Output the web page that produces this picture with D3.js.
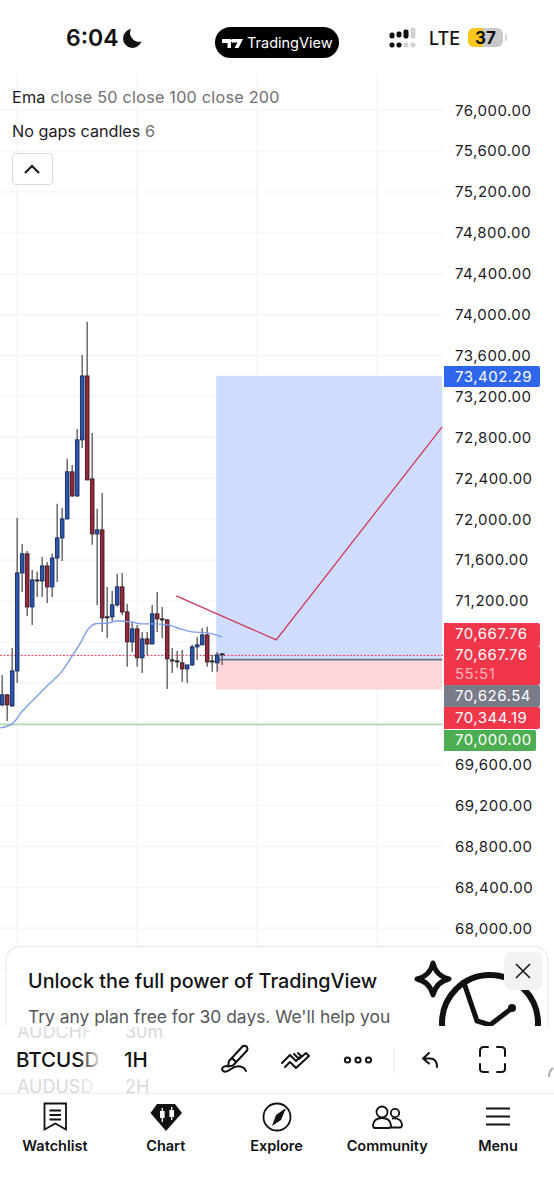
<!DOCTYPE html>
<html><head><meta charset="utf-8">
<script src="https://cdn.jsdelivr.net/npm/d3@7"></script>
<style>
html,body{margin:0;padding:0;background:#fff;overflow:hidden}
svg{display:block}
text{font-family:Inter,"Noto Sans",sans-serif}
</style></head><body><div id="c"></div>
<script>
// ---- data ----
const gridTicks=[76000,75600,75200,74800,74400,74000,73600,73200,72800,72400,72000,71600,71200,70800,70400,70000,69600,69200,68800,68400,68000,67600,67200];
const labelTicks=[76000,75600,75200,74800,74400,74000,73600,73200,72800,72400,72000,71600,71200,69600,69200,68800,68400,68000];
const timeGridIdx=[3,27,51,75];
const highs=[70477,70290,70741,72013,71758,71690,71504,71485,71631,71582,71661,72150,72110,72590,72531,72883,73607,73930,72844,72101,72257,71338,71299,71465,71475,71172,70996,70966,70898,70898,71162,71289,71142,71025,70741,70712,70722,70575,70771,70849,70937,70947,70673,70702,70690];
const opens=[70184,70282,70174,70516,71475,71661,71142,71406,71396,71543,71338,71621,71817,72003,72463,72228,72776,73401,72394,71856,71895,71045,71045,71162,71338,71093,70800,70927,70644,70829,70780,71074,71025,71015,70624,70614,70595,70536,70575,70751,70771,70868,70604,70595,70673];
const closes=[70282,70184,70516,71475,71661,71142,71406,71396,71543,71338,71621,71817,72003,72463,72228,72776,73401,72384,71856,71895,71035,71035,71162,71338,71093,70800,70927,70644,70829,70780,71074,71025,71015,70634,70614,70604,70536,70575,70751,70771,70868,70604,70614,70673,70683];
const lows=[70170,70027,70164,70399,71289,71054,70966,71240,71240,71181,71240,71387,71592,72000,72218,72218,72697,72384,71749,71162,70898,70839,71005,71142,71064,70556,70702,70556,70497,70673,70780,70898,70839,70340,70497,70546,70409,70399,70565,70624,70771,70556,70507,70507,70575];
const emaIdx=[-0.5,2,4,7,9,12,14,16,17,19,21,23,26,28,30,33,36,38,41,44];
const emaVals=[69959,69999,70121,70272,70370,70516,70663,70820,70912,70980,70983,71005,70993,70976,70976,70966,70922,70898,70888,70849];
const tradeIdx=[34.8,54.8,88];
const tradeVals=[71250,70820,72903];
const positionStartIdx=42.8, positionEndIdx=88;
const targetPrice=73402.29, entryPrice=70626.54, stopPrice=70344.19, lastPrice=70667.76, supportPrice=70000;
const tagLabels=["70,667.76","70,667.76","70,626.54","70,344.19","70,000.00"];
const legendA=["Ema"," close 50 close 100 close 200"];
const legendB=["No gaps candles"," 6"];
const navLabels=["Watchlist","Chart","Explore","Community","Menu"];

// ---- scales ----
const W=554,H=1200;
const svg=d3.select("#c").append("svg").attr("width",W).attr("height",H).attr("viewBox",`0 0 ${W} ${H}`);
const x=d3.scaleLinear().domain([0,88]).range([2.2,442.2]);
const y=d3.scaleLinear().domain([76000,68000]).range([110.2,928.2]);
const GRID="#f2f3f5";
const LS=0.5;

// grid
const grid=svg.append("g");
grid.selectAll("line.h").data(gridTicks).join("line").attr("class","h").attr("x1",0).attr("x2",443).attr("y1",d=>y(d)).attr("y2",d=>y(d)).attr("stroke",GRID).attr("stroke-width",1.2);
grid.selectAll("line.v").data(timeGridIdx).join("line").attr("class","v").attr("x1",d=>x(d)).attr("x2",d=>x(d)).attr("y1",75).attr("y2",947).attr("stroke",GRID).attr("stroke-width",1.2);

// position box
svg.append("rect").attr("x",x(positionStartIdx)).attr("width",x(positionEndIdx)-x(positionStartIdx)).attr("y",y(targetPrice)).attr("height",y(entryPrice)-y(targetPrice)).attr("fill","#cfdcfc");
svg.append("rect").attr("x",x(positionStartIdx)).attr("width",x(positionEndIdx)-x(positionStartIdx)).attr("y",y(entryPrice)).attr("height",y(stopPrice)-y(entryPrice)+1).attr("fill","#fbd6da");
svg.append("line").attr("x1",x(positionStartIdx)).attr("x2",x(positionEndIdx)).attr("y1",y(entryPrice)).attr("y2",y(entryPrice)).attr("stroke","#66758f").attr("stroke-width",1.6);

// horizontal levels
const gy=Math.round(y(supportPrice))+0.5;
svg.append("line").attr("x1",0).attr("x2",443).attr("y1",gy).attr("y2",gy).attr("stroke","#a6dba8").attr("stroke-width",1.4);
svg.append("line").attr("x1",0).attr("x2",443).attr("y1",y(lastPrice)).attr("y2",y(lastPrice)).attr("stroke","#e8405a").attr("stroke-width",1).attr("stroke-dasharray","2 1.5");

// candles
const candles=highs.map((h,i)=>({i,h,o:opens[i],c:closes[i],l:lows[i]}));
const cg=svg.append("g");
cg.selectAll("line").data(candles).join("line").attr("x1",d=>x(d.i)).attr("x2",d=>x(d.i)).attr("y1",d=>y(d.h)).attr("y2",d=>y(d.l)).attr("stroke","#6a6a6c").attr("stroke-width",1.5);
cg.selectAll("rect").data(candles).join("rect")
 .attr("x",d=>x(d.i)-1.8).attr("width",3.6)
 .attr("y",d=>y(Math.max(d.o,d.c))).attr("height",d=>Math.max(0.6,Math.abs(y(d.o)-y(d.c))))
 .attr("fill",d=>d.c>=d.o?"#2c55ad":"#93293a")
 .attr("stroke",d=>Math.abs(y(d.o)-y(d.c))<2?"#222":(d.c>=d.o?"#16285c":"#3c1a20")).attr("stroke-width",0.9);

// ema + trade path
const line=d3.line().x(d=>x(d[0])).y(d=>y(d[1]));
svg.append("path").attr("d",line.curve(d3.curveMonotoneX)(emaIdx.map((d,i)=>[d,emaVals[i]]))).attr("fill","none").attr("stroke","#7e9ce9").attr("stroke-width",1.4);
svg.append("path").attr("d",d3.line().x(d=>x(d[0])).y(d=>y(d[1]))(tradeIdx.map((d,i)=>[d,tradeVals[i]]))).attr("fill","none").attr("stroke","#cf3a5c").attr("stroke-width",1.3);

// price axis
const axis=d3.axisRight(y).tickValues(labelTicks).tickSize(0).tickPadding(0).tickFormat(d=>d3.format(",.2f")(d));
const ag=svg.append("g").attr("transform","translate(455,0)").call(axis);
ag.select(".domain").remove();
ag.selectAll("text").attr("font-size",15).attr("fill","#1b1b1f").attr("letter-spacing",LS).style("font-family","Inter");

// tags
function tag(y0,h,w,fill,label,cy,col){
  svg.append("path").attr("d",`M444 ${y0}h${w-2}q2 0 2 2v${h-4}q0 2 -2 2h${-(w-2)}z`).attr("fill",fill);
  if(label) svg.append("text").attr("x",455).attr("y",cy).attr("dy","0.36em").attr("font-size",15).attr("letter-spacing",LS).attr("fill",col||"#fff").text(label);
}
tag(366,21,96,"#2f66ee",d3.format(",.2f")(targetPrice),376.5);
tag(623,23,96,"#f1364a",tagLabels[0],634);
tag(646,39,96,"#f1364a",tagLabels[1],655);
svg.append("text").attr("x",455).attr("y",674).attr("dy","0.36em").attr("font-size",15).attr("letter-spacing",LS).attr("fill","#ffb3bb").text("55:51");
tag(685,22,96,"#787b88",tagLabels[2],696);
tag(707,22,96,"#f1364a",tagLabels[3],717.5);
tag(730,21,92,"#4cae50",tagLabels[4],739.5);

// legend
const la=svg.append("text").attr("x",12).attr("y",103).attr("font-size",16.2).attr("letter-spacing",0.23);
la.append("tspan").attr("fill","#1b1b1f").text(legendA[0]);
la.append("tspan").attr("fill","#6f6f73").attr("xml:space","preserve").text(legendA[1]);
const lb=svg.append("text").attr("x",12).attr("y",137).attr("font-size",16.2);
lb.append("tspan").attr("fill","#1b1b1f").text(legendB[0]);
lb.append("tspan").attr("fill","#6f6f73").text(legendB[1]);
svg.append("rect").attr("x",12.5).attr("y",153.5).attr("width",40).attr("height",31).attr("rx",3).attr("fill","#fff").attr("stroke","#d8d8da");
svg.append("path").attr("d","M25 173l7-7 7 7").attr("fill","none").attr("stroke","#111").attr("stroke-width",2);

// status bar
svg.append("text").attr("x",66).attr("y",46).attr("font-size",23).attr("font-weight",600).attr("fill","#111").text("6:04");
svg.append("path").attr("d","M131 29a9.500 9.500 0 1 0 10.500 12.500a9 9 0 0 1 -10.500 -12.500z").attr("fill","#111");
svg.append("rect").attr("x",215).attr("y",27).attr("width",124).attr("height",31).attr("rx",15.5).attr("fill","#000");
svg.append("path").attr("d","M222 39h9v9h-3.500v-5h-5.500zM232 39h11l-4.500 9h-4l3-5.500h-3.500a2 2 0 0 1 -2 -3.500z").attr("fill","#fff");
svg.append("text").attr("x",247).attr("y",48).attr("font-size",14.5).attr("fill","#fff").text("TradingView");
// signal dots
[[392,44],[392,35],[399,44],[399,34],[406,44],[406,32],[413,44],[413,30]].forEach((p,i)=>{
  const off=i>=4&&i%2==0||i==7;
  svg.append("rect").attr("x",p[0]-2.500).attr("y",p[1]-(i%2?2.500:1.500)).attr("width",5).attr("height",i%2?(i==5?9:i==7?11:6):5).attr("rx",2).attr("fill",off?"#d2d2d2":"#111");
});
svg.append("text").attr("x",429).attr("y",45).attr("font-size",18).attr("font-weight",500).attr("fill","#111").text("LTE");
svg.append("rect").attr("x",468).attr("y",28).attr("width",35).attr("height",19).attr("rx",6).attr("fill","#c9c9c9");
svg.append("path").attr("d","M474 28h9v19h-9a6 6 0 0 1 -6 -6v-7a6 6 0 0 1 6 -6z").attr("fill","#fbc51a");
svg.append("rect").attr("x",505).attr("y",34).attr("width",2).attr("height",7).attr("rx",1).attr("fill","#d4d4d4");
svg.append("text").attr("x",475).attr("y",44).attr("font-size",17).attr("font-weight",700).attr("fill","#111").text("37");

// promo card
svg.append("rect").attr("x",6).attr("y",946.5).attr("width",542).attr("height",130).attr("rx",14).attr("fill","#fff").attr("stroke","#eeeeee").attr("stroke-width",1.5);
svg.append("text").attr("x",28).attr("y",988).attr("font-size",19.8).attr("font-weight",500).attr("fill","#131316").text("Unlock the full power of TradingView");
svg.append("text").attr("x",28).attr("y",1023).attr("font-size",17.4).attr("fill","#55565a").text("Try any plan free for 30 days. We'll help you");
svg.append("path").attr("d","M433 963q3 13 16 16q-13 3 -16 16q-3 -13 -16 -16q13 -3 16 -16z").attr("fill","#fff").attr("stroke","#111").attr("stroke-width",5).attr("stroke-linejoin","round");
svg.append("circle").attr("cx",490).attr("cy",1023).attr("r",48).attr("fill","none").attr("stroke","#111").attr("stroke-width",6);
svg.append("path").attr("d","M463 980L477 1021L490 1025L512 1008").attr("fill","none").attr("stroke","#111").attr("stroke-width",5);
svg.append("circle").attr("cx",512).attr("cy",1008).attr("r",4).attr("fill","#111");
svg.append("rect").attr("x",504).attr("y",952).attr("width",39).attr("height",38).attr("rx",8).attr("fill","#f2f2f2");
svg.append("path").attr("d","M516 964l14 14M530 964l-14 14").attr("stroke","#111").attr("stroke-width",1.5);

// toolbar
svg.append("rect").attr("x",0).attr("y",1026).attr("width",W).attr("height",H-1026).attr("fill","#fff");
const defs=svg.append("defs");
const lg=defs.append("linearGradient").attr("id","fade").attr("x1",0).attr("x2",1).attr("y1",0).attr("y2",0);
lg.append("stop").attr("offset",0).attr("stop-color","#fff").attr("stop-opacity",0);
lg.append("stop").attr("offset",1).attr("stop-color","#fff").attr("stop-opacity",1);
defs.append("clipPath").attr("id","tb").append("rect").attr("x",0).attr("y",1027).attr("width",W).attr("height",66);
const tb=svg.append("g").attr("clip-path","url(#tb)");
[["AUDCHF",1037.5],["AUDUSD",1093]].forEach(a=>tb.append("text").attr("x",17).attr("y",a[1]).attr("font-size",18).attr("fill","#d9d9db").text(a[0]));
[["30m",1037.5],["2H",1093]].forEach(a=>tb.append("text").attr("x",125).attr("y",a[1]).attr("font-size",18).attr("fill","#d9d9db").text(a[0]));
tb.append("text").attr("x",16).attr("y",1067).attr("font-size",20.5).attr("font-weight",500).attr("fill","#131316").text("BTCUSD");
tb.append("rect").attr("x",78).attr("y",1027).attr("width",25).attr("height",66).attr("fill","url(#fade)");
tb.append("rect").attr("x",103).attr("y",1027).attr("width",18).attr("height",66).attr("fill","#fff");
tb.append("text").attr("x",124).attr("y",1067).attr("font-size",20.5).attr("font-weight",500).attr("fill","#131316").text("1H");
const ic=svg.append("g").attr("fill","none").attr("stroke","#111").attr("stroke-width",2).attr("stroke-linecap","round").attr("stroke-linejoin","round");
ic.append("path").attr("d","M229 1061l14-15q3-1 4 1t0 3.500l-14 15l-5 1zM232 1058l4 4M227 1066q-7 1 -4 5q3 2 8-2q6-4 11-2q3 1 4 4");
ic.append("path").attr("d","M282 1063l8-8l6 6l4-4M285 1067l5-5l6 6l13-12l-3-3l-7 6l-5-5M298 1053l3 3");
[347.5,358,368.5].forEach(c=>ic.append("circle").attr("cx",c).attr("cy",1060).attr("r",2.600));
svg.append("line").attr("x1",394).attr("x2",394).attr("y1",1048).attr("y2",1073).attr("stroke","#f0f0f0").attr("stroke-width",1.2);
ic.append("path").attr("d","M429 1053l-6 5.500l6 5M423 1058.500h7q7 0 7 8.500");
ic.append("path").attr("d","M480 1056v-5q0-4 4-4h4M497 1047h4q4 0 4 4v5M505 1064v5q0 3 -4 3h-4M488 1072h-4q-4 0 -4 -3v-5");
svg.append("path").attr("d","M549 1077q0-6 4-9").attr("fill","none").attr("stroke","#aaa").attr("stroke-width",2);
svg.append("line").attr("x1",0).attr("x2",W).attr("y1",1093.5).attr("y2",1093.5).attr("stroke","#efefef").attr("stroke-width",1.2);

// nav
const navX=d3.scalePoint().domain(navLabels).range([55,498]);
svg.selectAll("text.nav").data(navLabels).join("text").attr("class","nav").attr("x",d=>navX(d)).attr("y",1151).attr("text-anchor","middle").attr("font-size",14.5).attr("font-weight",600).attr("fill","#131316").text(d=>d);
const ni=svg.append("g").attr("fill","none").attr("stroke","#111").attr("stroke-width",1.8);
ni.append("path").attr("d","M44.500 1103.500h21.500v26l-10.700-6l-10.800 6zM49.500 1110.500h11.500M49.500 1115h11.500M49.500 1119.500h11.500");
svg.append("path").attr("d","M157 1104h18l7 9l-16 18l-15.500-18z").attr("fill","#111");
svg.append("path").attr("d","M162.300 1108v14M171.700 1107v13").attr("stroke","#fff").attr("stroke-width",1.3);
svg.append("rect").attr("x",160).attr("y",1111).attr("width",4.6).attr("height",7).attr("fill","#fff");
svg.append("rect").attr("x",169.400).attr("y",1110).attr("width",4.600).attr("height",7).attr("fill","#fff");
ni.append("circle").attr("cx",277).attr("cy",1117).attr("r",13.500);
svg.append("path").attr("d","M286 1108l-5 12l-9 6l4-11z").attr("fill","#111");
ni.append("circle").attr("cx",382).attr("cy",1112).attr("r",5.500);
ni.append("circle").attr("cx",395).attr("cy",1113).attr("r",4.200);
ni.append("path").attr("d","M375 1128q-2 0 -2-3q1-7 9-7q8 0 9 7q0 3 -2 3zM392 1118.500q9-1 10 6q0 3 -2 3h-10");
ni.append("path").attr("d","M486 1108.500h24M486 1116.500h24M486 1124.500h24").attr("stroke-width",2);
</script></body></html>
